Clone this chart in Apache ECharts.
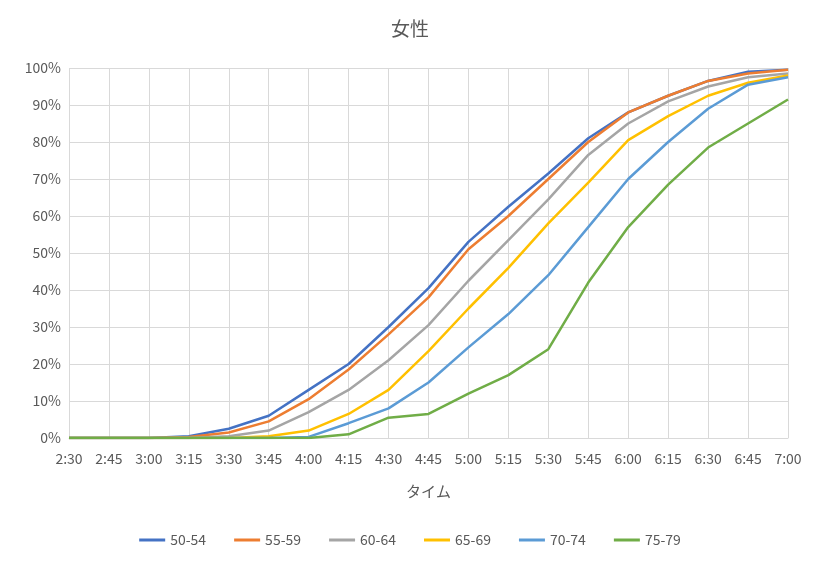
<!DOCTYPE html>
<html>
<head>
<meta charset="utf-8">
<script src="https://cdn.jsdelivr.net/npm/echarts@6/dist/echarts.min.js"></script>
<style>html,body{margin:0;padding:0;background:#fff}</style>
</head>
<body>
<div id="chart" style="width:820px;height:564px"></div>
<script>
var times = ['2:30','2:45','3:00','3:15','3:30','3:45','4:00','4:15','4:30','4:45','5:00','5:15','5:30','5:45','6:00','6:15','6:30','6:45','7:00']
var s5054 = [0,0,0,0.5,2.5,6,13,20,30,40.5,53,62.5,71.5,81,88,92.5,96.5,99,99.5]
var s5559 = [0,0,0,0.3,1.5,4.5,10.5,18.5,28,38,51,60,70,80,88,92.5,96.5,98.5,99.5]
var s6064 = [0,0,0,0,0.5,2,7,13,21,30.5,42.5,53.5,64.5,76.5,85,91,95,97.5,98.5]
var s6569 = [0,0,0,0,0,0.5,2,6.5,13,23.5,35,46,58,69,80.5,87,92.5,96,98]
var s7074 = [0,0,0,0,0,0,0.3,4,8,15,24.5,33.5,44,57,70,80,89,95.5,97.5]
var s7579 = [0,0,0,0,0,0,0,1,5.5,6.5,12,17,24,42,57,68.5,78.5,85,91.5]
var names = ['50-54','55-59','60-64','65-69','70-74','75-79']
var colors = ['#4472C4','#ED7D31','#A5A5A5','#FFC000','#5B9BD5','#70AD47']
var data = [s5054,s5559,s6064,s6569,s7074,s7579]

var font = '"Noto Sans CJK JP", "Noto Sans", sans-serif'
var chart = echarts.init(document.getElementById('chart'))
chart.setOption({
    title: {text: '女性', left: 'center', top: 14, textStyle: {fontFamily: font, fontSize: 19, fontWeight: 'normal', color: '#595959'}},
    legend: {bottom: 12, itemWidth: 26, itemHeight: 3, itemGap: 28, icon: 'rect',
        textStyle: {fontFamily: font, fontSize: 14, color: '#595959'}, data: names},
    grid: {left: 69, right: 32, top: 68, bottom: 126},
    xAxis: {
        type: 'category', data: times, boundaryGap: false,
        name: 'タイム', nameLocation: 'middle', nameGap: 46,
        nameTextStyle: {fontFamily: font, fontSize: 15, color: '#595959'},
        axisLine: {lineStyle: {color: '#d9d9d9'}}, axisTick: {show: false},
        axisLabel: {fontFamily: font, fontSize: 14, color: '#595959', margin: 14, interval: 0},
        splitLine: {show: true, lineStyle: {color: '#d9d9d9'}}
    },
    yAxis: {
        type: 'value', min: 0, max: 100, interval: 10,
        axisLabel: {formatter: '{value}%', fontFamily: font, fontSize: 14, color: '#595959'},
        axisLine: {show: false}, axisTick: {show: false},
        splitLine: {lineStyle: {color: '#d9d9d9'}}
    },
    series: names.map(function (n, i) {
        return {name: n, type: 'line', data: data[i], showSymbol: false, symbol: 'none',
            lineStyle: {width: 2.5, color: colors[i]}, itemStyle: {color: colors[i]}}
    })
})
</script>
</body>
</html>
